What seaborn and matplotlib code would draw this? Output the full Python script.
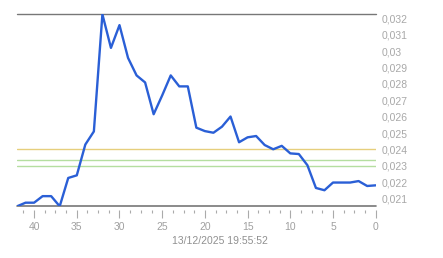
import matplotlib
matplotlib.use("Agg")
import matplotlib.pyplot as plt
from matplotlib.ticker import MultipleLocator, FuncFormatter
import seaborn as sns
import pandas as pd

# Data: minutes ago (42 -> 0) and values
minutes_ago = list(range(42, -1, -1))
values = [0.02053, 0.02075, 0.02075, 0.02115, 0.02115, 0.02053, 0.02226, 0.02242,
          0.02430, 0.02510, 0.03225, 0.03020, 0.03159, 0.02959, 0.02852, 0.02809,
          0.02615, 0.02730, 0.02852, 0.02785, 0.02785, 0.02533, 0.02512, 0.02502,
          0.02539, 0.02601, 0.02444, 0.02474, 0.02482, 0.02427, 0.02401, 0.02422,
          0.02376, 0.02372, 0.02304, 0.02165, 0.02151, 0.02198, 0.02198, 0.02198,
          0.02207, 0.02177, 0.02181]
ref_yellow = 0.0240
ref_green = [0.02333, 0.02297]
timestamp = "13/12/2025 19:55:52"

sns.set_style("white")
plt.rcParams['font.family'] = ['Liberation Sans', 'DejaVu Sans']

df = pd.DataFrame({"ago": minutes_ago, "value": values})

fig = plt.figure(figsize=(4.43, 2.58), dpi=100)
ax = fig.add_axes([17 / 443, 1 - 206.3 / 258, (375.7 - 17) / 443, (206.3 - 14.3) / 258])

ax.axhline(ref_yellow, color="#e6cf7c", lw=1.0, zorder=1)
for g in ref_green:
    ax.axhline(g, color="#b5dea0", lw=1.0, zorder=1)

ymin, ymax = min(values), max(values)
ax.axhline(ymax, color="#777777", lw=1.0, zorder=2, clip_on=False)
ax.axhline(ymin, color="#777777", lw=1.2, zorder=2, clip_on=False)

sns.lineplot(data=df, x="ago", y="value", ax=ax, color="#2a5fd6", lw=1.7, zorder=3)

ax.set_ylim(ymin, ymax)
ax.set_xlim(max(minutes_ago), min(minutes_ago))

for s in ["top", "left", "right", "bottom"]:
    ax.spines[s].set_visible(False)
ax.spines["bottom"].set_position(("outward", 3))

ax.xaxis.set_major_locator(MultipleLocator(5))
ax.xaxis.set_minor_locator(MultipleLocator(1.25))
ax.xaxis.set_major_formatter(FuncFormatter(lambda v, p: f"{int(round(v))}"))
ax.tick_params(axis="x", which="major", bottom=True, length=6, width=0.8, color="#aaaaaa",
               labelsize=7.5, labelcolor="#a0a0a0", pad=2)
ax.tick_params(axis="x", which="minor", bottom=True, length=2, width=0.8, color="#aaaaaa")

ax.yaxis.set_major_locator(MultipleLocator(0.001))
ax.yaxis.set_major_formatter(FuncFormatter(lambda v, p: f"{v:g}".replace(".", ",")))
ax.yaxis.tick_right()
ax.tick_params(axis="y", which="both", left=False, right=False, length=0,
               labelsize=7.5, labelcolor="#a8a8a8", pad=4)

ax.set_xlabel("")
ax.set_ylabel("")
ax.grid(False)

fig.text(220 / 443, 1 - 240.7 / 258, timestamp, ha="center", va="center",
         fontsize=7.5, color="#909090")

fig.savefig("out.png", dpi=100)
